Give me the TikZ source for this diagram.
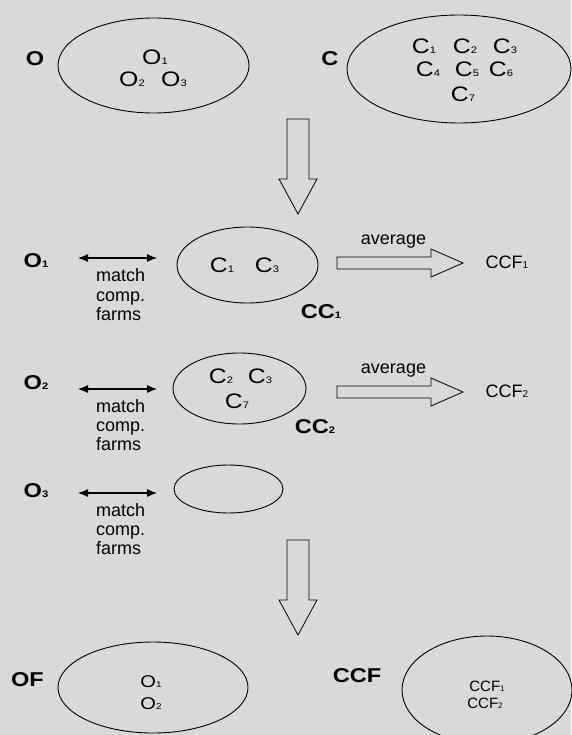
\documentclass[tikz,border=0pt]{standalone}
\usepackage{fontspec}
\setmainfont{Liberation Sans}
\newfontfamily\widesans[FakeStretch=1.18]{Liberation Sans}
\usetikzlibrary{shapes.geometric,arrows.meta}
\definecolor{panel}{HTML}{D9D9D9}
% small index digit sitting on the baseline
\newcommand\subd[2]{{\fontsize{#1}{#1}\selectfont #2}}
\begin{document}
\begin{tikzpicture}[x=1pt,y=-1pt,
  ell/.style={draw,ellipse,line width=0.9pt,inner sep=0pt},
  lbl/.style={inner sep=0pt,font=\widesans\fontsize{20}{24}\selectfont\bfseries},
  txt/.style={inner sep=0pt,font=\widesans\fontsize{21}{24}\selectfont},
  note/.style={inner sep=0pt,anchor=base west,font=\fontsize{18}{20}\selectfont},
  dbl/.style={{Latex[length=10pt,width=8pt]}-{Latex[length=10pt,width=8pt]},line width=1.1pt},
  blk/.style={draw,line width=0.8pt,line join=miter}]
\fill[panel] (0,0) rectangle (571,735);
\useasboundingbox (0,0) rectangle (571,735);

% ---- sets of farms
\node[lbl] (Olbl) at (35,59) {O};
\node[ell,minimum width=191pt,minimum height=95pt] (Oset) at (153.5,65.5) {};
\node[txt] (o1) at (155,57) {O\subd{9.5}{1}};
\node[txt] (o2) at (132,79.5) {O\subd{9.5}{2}};
\node[txt] (o3) at (174,79.5) {O\subd{9.5}{3}};

\node[lbl] (Clbl) at (330,59) {C};
\node[ell,minimum width=224pt,minimum height=108pt] (Cset) at (459,69) {};
\node[txt] (c1) at (424,46) {C\subd{9.5}{1}};
\node[txt] (c2) at (465,46) {C\subd{9.5}{2}};
\node[txt] (c3) at (505,46) {C\subd{9.5}{3}};
\node[txt] (c4) at (428,69.5) {C\subd{9.5}{4}};
\node[txt] (c5) at (467,69.5) {C\subd{9.5}{5}};
\node[txt] (c6) at (501,69.5) {C\subd{9.5}{6}};
\node[txt] (c7) at (463,94.5) {C\subd{9.5}{7}};

% ---- first block arrow down
\draw[blk] (287,119) -- (309,119) -- (309,179) -- (317,179) -- (298,214)
  -- (279,179) -- (287,179) -- cycle;

% ---- row 1
\node[lbl] (O1lbl) at (36,260.5) {O\subd{9.5}{1}};
\coordinate (d1a) at (78,258);
\coordinate (d1b) at (157,258);
\draw[dbl] (d1a) -- (d1b);
\node[note] (m1a) at (96,281.7) {match};
\node[note] (m1b) at (96,301) {comp.};
\node[note] (m1c) at (96,320.3) {farms};
\node[ell,minimum width=141pt,minimum height=76pt] (CC1) at (247.5,265) {};
\node[txt] (cc1a) at (222,265.5) {C\subd{9.5}{1}};
\node[txt] (cc1b) at (267,265.5) {C\subd{9.5}{3}};
\node[lbl] (CC1lbl) at (321,311.5) {CC\subd{9.5}{1}};
\node[note,anchor=base] (av1) at (393.5,244) {average};
\draw[blk] (337,257) -- (431,257) -- (431,249) -- (463,263) -- (431,277)
  -- (431,269) -- (337,269) -- cycle;
\node[inner sep=0pt,font=\fontsize{18}{20}\selectfont] (ccf1) at (507,262) {CCF\subd{10}{1}};

% ---- row 2
\node[lbl] (O2lbl) at (36,383) {O\subd{9.5}{2}};
\coordinate (d2a) at (78,389);
\coordinate (d2b) at (157,389);
\draw[dbl] (d2a) -- (d2b);
\node[note] (m2a) at (96,412) {match};
\node[note] (m2b) at (96,431.3) {comp.};
\node[note] (m2c) at (96,450.6) {farms};
\node[ell,minimum width=133pt,minimum height=71pt] (CC2) at (239.5,388.5) {};
\node[txt] (cc2a) at (221,376.5) {C\subd{9.5}{2}};
\node[txt] (cc2b) at (260,376.5) {C\subd{9.5}{3}};
\node[txt] (cc2c) at (237,401.5) {C\subd{9.5}{7}};
\node[lbl] (CC2lbl) at (315,426.5) {CC\subd{9.5}{2}};
\node[note,anchor=base] (av2) at (393.5,373) {average};
\draw[blk] (337,386) -- (431,386) -- (431,378) -- (463,392) -- (431,406)
  -- (431,398) -- (337,398) -- cycle;
\node[inner sep=0pt,font=\fontsize{18}{20}\selectfont] (ccf2) at (507,391) {CCF\subd{10}{2}};

% ---- row 3
\node[lbl] (O3lbl) at (36,491) {O\subd{9.5}{3}};
\coordinate (d3a) at (78,493);
\coordinate (d3b) at (157,493);
\draw[dbl] (d3a) -- (d3b);
\node[note] (m3a) at (96,516) {match};
\node[note] (m3b) at (96,535.3) {comp.};
\node[note] (m3c) at (96,554.6) {farms};
\node[ell,minimum width=109pt,minimum height=48pt] (CC3) at (228.5,489) {};

% ---- second block arrow down
\draw[blk] (287,540) -- (309,540) -- (309,600) -- (317,600) -- (298,635)
  -- (279,600) -- (287,600) -- cycle;

% ---- final sets
\node[lbl] (OFlbl) at (27.5,680) {OF};
\node[ell,minimum width=190pt,minimum height=91pt] (OF) at (153,687.5) {};
\node[inner sep=0pt,font=\widesans\fontsize{17}{20}\selectfont] (of1) at (151,682) {O\subd{8.5}{1}};
\node[inner sep=0pt,font=\widesans\fontsize{17}{20}\selectfont] (of2) at (151,703.5) {O\subd{8.5}{2}};

\node[lbl] (CCFlbl) at (357,676) {CCF};
\node[ell,minimum width=170pt,minimum height=108pt] (CCF) at (487,690) {};
\node[inner sep=0pt,font=\fontsize{15}{17}\selectfont] (f1) at (487,686) {CCF\subd{8}{1}};
\node[inner sep=0pt,font=\fontsize{15}{17}\selectfont] (f2) at (485,703) {CCF\subd{8}{2}};
\end{tikzpicture}
\end{document}
